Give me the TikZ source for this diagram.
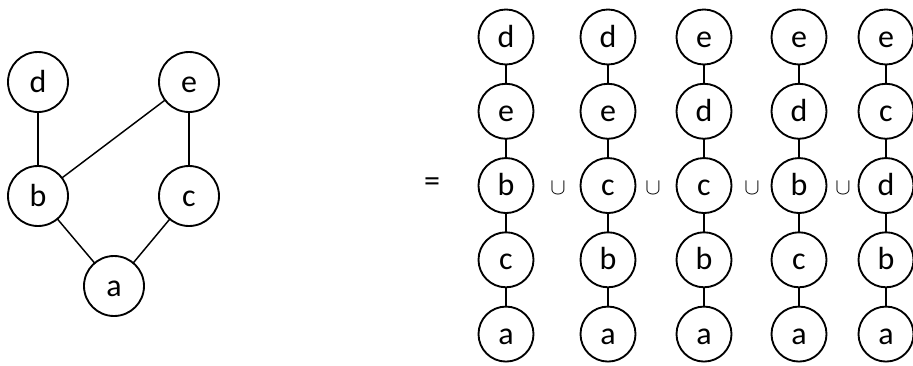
\documentclass[tikz,border=0pt]{standalone}
\usepackage{fontspec}
\setmainfont{Carlito}
\usetikzlibrary{positioning}
\tikzset{
  vert/.style={
    circle, draw, line width=1.4pt,
    inner sep=0pt, outer sep=0pt,
    minimum size=41.25pt,
    text height=15pt, text depth=0pt,
    font=\fontsize{24}{24}\selectfont
  },
  bigVert/.style={vert, minimum size=45pt},
  edge/.style={line width=1.1pt},
  opSign/.style={font=\fontsize{24}{24}\selectfont},
  cupSign/.style={font=\fontsize{19}{19}\selectfont},
}
\begin{document}
\begin{tikzpicture}[x=0.75pt, y=-0.75pt, node distance=14.45pt]
\useasboundingbox (0,0) rectangle (913,365);

% ---- Graph (left) ----------------------------------------------
\node[bigVert] (d) at (38,82) {d};
\node[bigVert] (e) at (189,82) {e};
\node[bigVert] (b) at (38,196) {b};
\node[bigVert] (c) at (189,196) {c};
\node[bigVert] (a) at (114,286) {a};

\draw[edge] (d) -- (b);
\draw[edge] (e) -- (b);
\draw[edge] (e) -- (c);
\draw[edge] (b) -- (a);
\draw[edge] (c) -- (a);

% ---- Equals sign ------------------------------------------------
\node[opSign] (eq) at (432,185) {=};

% ---- Chain 1: d e b c a ---------------------------------------
\node[vert] (p1d) at (506,37) {d};
\node[vert, below=of p1d] (p1e) {e};
\node[vert, below=of p1e] (p1b) {b};
\node[vert, below=of p1b] (p1c) {c};
\node[vert, below=of p1c] (p1a) {a};

% ---- Chain 2: d e c b a ---------------------------------------
\node[vert] (p2d) at (608,37) {d};
\node[vert, below=of p2d] (p2e) {e};
\node[vert, below=of p2e] (p2c) {c};
\node[vert, below=of p2c] (p2b) {b};
\node[vert, below=of p2b] (p2a) {a};

% ---- Chain 3: e d c b a ---------------------------------------
\node[vert] (p3e) at (704,37) {e};
\node[vert, below=of p3e] (p3d) {d};
\node[vert, below=of p3d] (p3c) {c};
\node[vert, below=of p3c] (p3b) {b};
\node[vert, below=of p3b] (p3a) {a};

% ---- Chain 4: e d b c a ---------------------------------------
\node[vert] (p4e) at (799,37) {e};
\node[vert, below=of p4e] (p4d) {d};
\node[vert, below=of p4d] (p4b) {b};
\node[vert, below=of p4b] (p4c) {c};
\node[vert, below=of p4c] (p4a) {a};

% ---- Chain 5: e c d b a ---------------------------------------
\node[vert] (p5e) at (886,37) {e};
\node[vert, below=of p5e] (p5c) {c};
\node[vert, below=of p5c] (p5d) {d};
\node[vert, below=of p5d] (p5b) {b};
\node[vert, below=of p5b] (p5a) {a};

% ---- Chain edges -----------------------------------------------
\draw[edge] (p1d) -- (p1e) -- (p1b) -- (p1c) -- (p1a);
\draw[edge] (p2d) -- (p2e) -- (p2c) -- (p2b) -- (p2a);
\draw[edge] (p3e) -- (p3d) -- (p3c) -- (p3b) -- (p3a);
\draw[edge] (p4e) -- (p4d) -- (p4b) -- (p4c) -- (p4a);
\draw[edge] (p5e) -- (p5c) -- (p5d) -- (p5b) -- (p5a);

% ---- Union signs -----------------------------------------------
\node[cupSign] (u1) at (558,188) {$\cup$};
\node[cupSign] (u2) at (653,188) {$\cup$};
\node[cupSign] (u3) at (752,188) {$\cup$};
\node[cupSign] (u4) at (843,188) {$\cup$};

\end{tikzpicture}
\end{document}
